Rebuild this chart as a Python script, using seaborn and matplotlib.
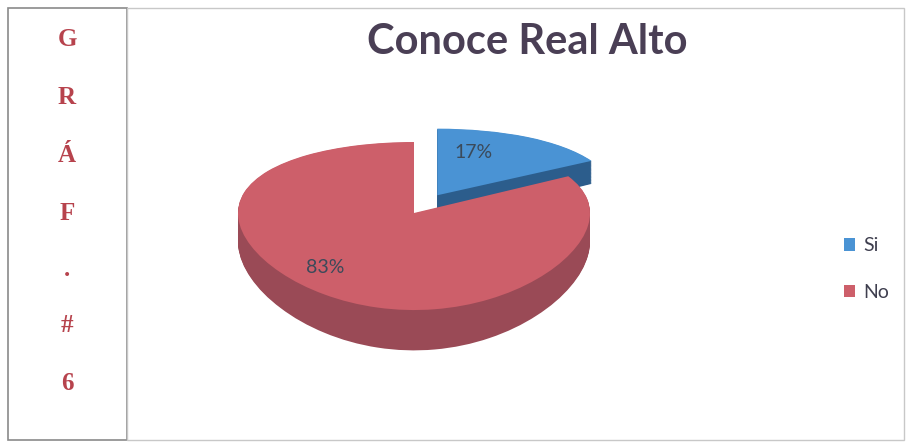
import matplotlib
matplotlib.use("Agg")
import matplotlib.pyplot as plt
import seaborn as sns
import numpy as np
from matplotlib.patches import Rectangle, Patch

sns.set_theme(style="white")
plt.rcParams['font.family'] = ['Lato', 'DejaVu Sans']

# ---- data ----
categories = ["Si", "No"]
values = [17, 83]
title = "Conoce Real Alto"
side_letters = ["G", "R", "Á", "F", ".", "#", "6"]

top_colors = ["#4A93D4", "#CD5F6A"]
side_colors = ["#2C5D8C", "#9A4A56"]

W, H = 908, 447
fig = plt.figure(figsize=(W / 100, H / 100), dpi=100)
fig.patch.set_facecolor("white")

# frames
fig.patches.append(Rectangle((8 / W, 1 - 440 / H), (127 - 8) / W, (440 - 8) / H,
                             transform=fig.transFigure, fill=False,
                             edgecolor="#8A8A8A", linewidth=1.2))
fig.patches.append(Rectangle((127 / W, 1 - 440 / H), (904 - 127) / W, (440 - 8) / H,
                             transform=fig.transFigure, fill=False,
                             edgecolor="#C8C8C8", linewidth=1.0))

# vertical letters
ys = [40, 97, 155, 213, 270, 325, 383]
for ch, y in zip(side_letters, ys):
    fig.text(67 / W, 1 - y / H, ch, ha="center", va="center", fontsize=18,
             fontweight="bold", color="#B7434D", family=["Liberation Serif", "DejaVu Serif"])

# perspective-like y scale: Y = y / (1 + p*y)
p = 0.155
def fwd(y):
    y = np.asarray(y, dtype=float)
    return y / (1 + p * y)
def inv(Y):
    Y = np.asarray(Y, dtype=float)
    return Y / (1 - p * Y)

cx, cy, a, s = 414, 213, 176, 82     # pixel centre, x px/unit, y px/unit
xl, xr = -1.3, 1.3
yb, yt = -1.8, 1.6
Yb, Yt = float(fwd(yb)), float(fwd(yt))
left = cx + xl * a
bottom = (H - cy) + Yb * s
ax = fig.add_axes([left / W, bottom / H, (xr - xl) * a / W, (Yt - Yb) * s / H])

depth = 0.33
n = 40
explode = [0.26, 0]
for k in range(n, 0, -1):
    ax.pie(values, colors=side_colors, startangle=90, counterclock=False,
           explode=explode, center=(0, -k * depth / n),
           wedgeprops=dict(linewidth=0))
wedges, texts, autotexts = ax.pie(values, colors=top_colors, startangle=90,
                                  counterclock=False, explode=explode,
                                  autopct="%1.0f%%", pctdistance=0.7,
                                  wedgeprops=dict(linewidth=0),
                                  textprops=dict(fontsize=14, color="#3B4A5A"))
for t in autotexts:
    x0, y0 = t.get_position()
    t.set_position((x0 - 0.15, y0))
ax.set_aspect("auto")
ax.set_yscale("function", functions=(fwd, inv))
ax.set_xlim(xl, xr)
ax.set_ylim(yb, yt)
ax.axis("off")

fig.text(527 / W, 1 - 42 / H, title, ha="center", va="center", fontsize=30,
         fontweight="bold", color="#4A3F55")

handles = [Patch(facecolor=c, edgecolor="none") for c in top_colors]
fig.legend(handles, categories, loc="center left", bbox_to_anchor=(826 / W, 1 - 269 / H),
           frameon=False, fontsize=14, labelspacing=1.5, handlelength=0.6,
           handleheight=0.6, handletextpad=0.4, labelcolor="#3F3F4F")

fig.savefig("out.png", dpi=100, facecolor="white")
